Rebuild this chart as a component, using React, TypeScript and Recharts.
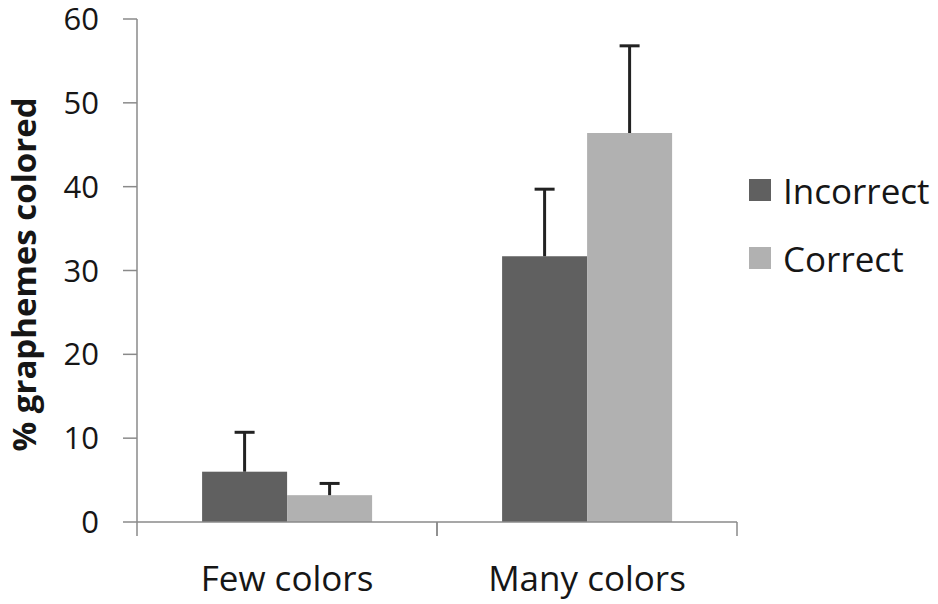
import React from 'react'
import { BarChart, Bar, XAxis, YAxis, Legend } from 'recharts'

const CATEGORIES = ['Few colors', 'Many colors']
const INCORRECT = [6.0, 31.7]
const INCORRECT_ERR = [4.7, 8.0]
const CORRECT = [3.2, 46.4]
const CORRECT_ERR = [1.4, 10.4]
const Y_TICKS = [0, 10, 20, 30, 40, 50, 60]

const SERIES = [
  { key: 'incorrect', errKey: 'incorrectErr', name: 'Incorrect', color: '#606060' },
  { key: 'correct', errKey: 'correctErr', name: 'Correct', color: '#b1b1b1' },
]

const data = CATEGORIES.map((name, i) => ({
  name,
  incorrect: INCORRECT[i],
  incorrectErr: INCORRECT_ERR[i],
  correct: CORRECT[i],
  correctErr: CORRECT_ERR[i],
}))

const FONT = '"Open Sans", "Noto Sans", sans-serif'
const AXIS_COLOR = '#8a8a8a'
const TEXT_COLOR = '#161616'

// bar plus a one-sided (upper) error whisker, scaled from the bar's own px/unit
function barWithError(valueKey: string, errKey: string) {
  return (props: any) => {
    const { x, y, width, height, fill, payload } = props
    const value = payload[valueKey]
    const err = payload[errKey]
    const pxPerUnit = value ? height / value : 0
    const cx = x + width / 2
    const top = y - err * pxPerUnit
    return (
      <g>
        <rect x={x} y={y} width={width} height={height} fill={fill} />
        <line x1={cx} y1={y} x2={cx} y2={top} stroke="#222" strokeWidth={3} />
        <line x1={cx - 10} y1={top} x2={cx + 10} y2={top} stroke="#222" strokeWidth={3} />
      </g>
    )
  }
}

const CategoryTick = (props: any) => {
  const { x, y, payload } = props
  const half = payload?.offset || 150
  return (
    <g>
      <line x1={x - half} y1={y} x2={x - half} y2={y + 14} stroke={AXIS_COLOR} strokeWidth={1.5} />
      <line x1={x + half} y1={y} x2={x + half} y2={y + 14} stroke={AXIS_COLOR} strokeWidth={1.5} />
      <text
        x={x}
        y={y + 55}
        textAnchor="middle"
        dominantBaseline="central"
        fontFamily={FONT}
        fontSize={35}
        fill={TEXT_COLOR}
      >
        {payload.value}
      </text>
    </g>
  )
}

const YLabel = (props: any) => {
  const vb = props.viewBox || { x: 0, y: 19, width: 137, height: 503 }
  const cx = vb.x + 23
  const cy = vb.y + vb.height / 2 + 4
  return (
    <text
      x={cx}
      y={cy}
      transform={`rotate(-90, ${cx}, ${cy})`}
      textAnchor="middle"
      dominantBaseline="central"
      fontFamily={FONT}
      fontWeight="bold"
      fontSize={33}
      fill={TEXT_COLOR}
    >
      % graphemes colored
    </text>
  )
}

const LegendBox = () => (
  <div style={{ fontFamily: FONT, fontSize: 35, color: TEXT_COLOR }}>
    {SERIES.map((s) => (
      <div key={s.key} style={{ display: 'flex', alignItems: 'center', height: 68 }}>
        <span style={{ width: 22, height: 22, background: s.color, marginRight: 12, display: 'inline-block' }} />
        <span>{s.name}</span>
      </div>
    ))}
  </div>
)

export default function App() {
  return (
    <div style={{ position: 'absolute', left: 0, top: 0, width: 938, height: 604, background: '#fff' }}>
      <BarChart
        width={938}
        height={604}
        data={data}
        margin={{ top: 19, right: 201, bottom: 0, left: 0 }}
        barCategoryGap="21.7%"
        barGap={0}
      >
        <XAxis
          dataKey="name"
          height={82}
          axisLine={{ stroke: AXIS_COLOR, strokeWidth: 1.5 }}
          tickLine={false}
          tickSize={0}
          tickMargin={0}
          tick={<CategoryTick />}
          interval={0}
        />
        <YAxis
          width={137}
          domain={[0, 60]}
          ticks={Y_TICKS}
          interval={0}
          axisLine={{ stroke: AXIS_COLOR, strokeWidth: 1.5 }}
          tickLine={{ stroke: AXIS_COLOR, strokeWidth: 1.5 }}
          tickSize={14}
          tickMargin={24}
          tick={{ fontFamily: FONT, fontSize: 31, fill: TEXT_COLOR }}
          label={<YLabel />}
        />
        <Legend
          layout="vertical"
          align="center"
          verticalAlign="middle"
          content={<LegendBox />}
          wrapperStyle={{ left: 749, top: 156, width: 189 }}
        />
        {SERIES.map((s) => (
          <Bar
            key={s.key}
            dataKey={s.key}
            name={s.name}
            fill={s.color}
            isAnimationActive={false}
            shape={barWithError(s.key, s.errKey)}
          />
        ))}
      </BarChart>
    </div>
  )
}
